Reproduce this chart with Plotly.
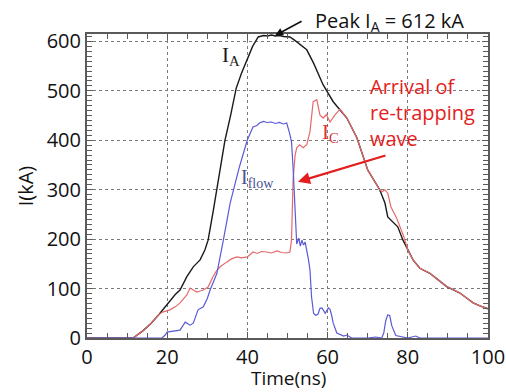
import plotly.graph_objects as go

# ---- data ----
t_A = [0, 11.5, 14, 16, 18, 19.5, 20.7, 22, 23.2, 24.9, 26.5, 28.2, 29.4, 30.2, 31.4, 32.3, 33.3,
       34.4, 35.8, 37.2, 38.5, 40, 41.3, 42.7, 44, 45, 46, 47, 48, 49, 50.6, 52, 53.5, 54.8,
       56.5, 58.9, 61.4, 63, 64.8, 67.3, 70, 73, 74.3, 75, 76.3, 77.5, 78.8, 80, 81.3, 83,
       85.5, 87.5, 89.7, 91.5, 93, 94.5, 96.3, 98, 100]
I_A = [0, 0, 15, 30, 48, 63, 77, 88, 97, 124, 144, 158, 178, 198, 253, 300, 350,
       400, 450, 505, 535, 563, 590, 609, 612, 611, 613, 611, 612, 610, 609, 601, 592, 583,
       556, 512, 478, 462, 445, 405, 340, 300, 273, 245, 235, 225, 198, 178, 158, 141,
       131, 118, 104, 97, 91, 82, 71, 65, 59]

t_C = [0, 11.5, 14, 16, 18, 19, 20.7, 22, 23.2, 24.9, 25.7, 26.5, 27.4, 28.2, 29, 30.2, 31.4,
       32.3, 33.2, 34.9, 36, 37.4, 38.5, 40, 41.4, 42.5, 43.5, 44.9, 46, 47.4, 48.5, 49.8,
       50.6, 51.0, 51.4, 51.9, 52.3, 53.0, 53.9, 54.8, 55.6, 56.4, 57.3, 58.1, 58.9, 59.7,
       60.6, 61.8, 63.1, 64.8, 67.3, 70, 73, 73.6, 74.3, 75, 75.8, 77.2, 78, 79, 80, 81.3,
       83, 85.5, 87.5, 89.7, 91.5, 93, 94.5, 96.3, 98, 100]
I_C = [0, 0, 15, 30, 48, 53, 57, 63, 71, 87, 101, 97, 93, 95, 97, 103, 124,
       136, 144, 154, 160, 164, 162, 164, 174, 171, 175, 174, 172, 176, 173, 172,
       174, 198, 320, 370, 385, 391, 385, 391, 417, 478, 482, 451, 445, 452,
       437, 451, 463, 445, 405, 340, 300, 296, 300, 293, 265, 243, 225, 205, 178, 158,
       141, 131, 118, 104, 97, 91, 82, 71, 65, 59]

t_flow = [0, 18.7, 19.5, 20, 21.5, 23.2, 24.5, 25.7, 26.5, 27.7, 29, 30, 30.7, 32.4, 34, 35.7,
          38, 40, 41.4, 42.4, 43, 44, 44.9, 46, 47, 48, 49, 49.8, 50.5, 51, 51.4, 51.7, 51.9,
          52.3, 52.8, 53.2, 53.6, 54, 54.4, 54.8, 55.2, 55.6, 56, 56.5, 57, 57.6, 58.1, 58.6,
          59.4, 60.2, 60.6, 61, 61.4, 62.3, 63, 64, 64.8, 66, 70, 72, 73.5, 74, 74.5, 75,
          75.5, 76, 77, 80, 81, 82, 83, 85, 100]
I_flow = [0, 0, 6, 12, 14, 16, 32, 26, 30, 57, 63, 80, 97, 131, 198, 273,
          346, 401, 427, 430, 435, 438, 436, 437, 434, 436, 433, 435, 415, 397, 344, 290, 230,
          190, 202, 186, 198, 188, 194, 180, 160, 138, 83, 50, 46, 48, 60, 61,
          50, 61, 58, 46, 30, 10, 8, 4, 6, 0, 0, 2, 0, 10, 35, 47,
          45, 25, 5, 0, 2, 4, 0, 0, 0]

x_ticks = [0, 20, 40, 60, 80, 100]
y_ticks = [0, 100, 200, 300, 400, 500, 600]

peak_time, peak_value = 46.9, 612

fig = go.Figure()
fig.add_trace(go.Scatter(x=t_A, y=I_A, mode="lines", line=dict(color="#1a1a1a", width=1.4),
                         showlegend=False))
fig.add_trace(go.Scatter(x=t_C, y=I_C, mode="lines", line=dict(color="#e46a6a", width=1.2),
                         showlegend=False))
fig.add_trace(go.Scatter(x=t_flow, y=I_flow, mode="lines", line=dict(color="#5a5ad8", width=1.2),
                         showlegend=False))

sans = "Open Sans"
serif = "Liberation Serif"

annotations = [
    dict(x=35.9, y=571, text="I<sub>A</sub>", showarrow=False,
         font=dict(family=serif, size=21, color="#1a1a1a")),
    dict(x=42.4, y=322, text="I<sub>flow</sub>", showarrow=False,
         font=dict(family=serif, size=20, color="#4a5290")),
    dict(x=60.6, y=415, text="I<sub>C</sub>", showarrow=False,
         font=dict(family=serif, size=21, color="#e03030")),
    dict(x=83.6, y=457, text="Arrival of<br>re-trapping<br>wave", showarrow=False,
         align="left", font=dict(family=sans, size=20, color="#e41e1e")),
    # arrow pointing to the re-trapping arrival
    dict(x=52.6, y=316, ax=74.8, ay=370, xref="x", yref="y", axref="x", ayref="y",
         text="", showarrow=True, arrowhead=2, arrowsize=1.1, arrowwidth=2.2,
         arrowcolor="#e41e1e"),
    # peak label (above the plot area)
    dict(x=0.755, y=1.042, xref="paper", yref="paper", xanchor="center", yanchor="middle",
         text="Peak I<sub>A</sub> = 612 kA",
         showarrow=False, font=dict(family=sans, size=20, color="#111111")),
    dict(x=peak_time, y=peak_value, xref="x", yref="y", ax=28, ay=-15,
         text="", showarrow=True, arrowhead=2, arrowsize=1.0, arrowwidth=1.6,
         arrowcolor="#111111"),
    # x axis title
    dict(x=0.503, y=-0.13, xref="paper", yref="paper", xanchor="center", yanchor="middle",
         text="Time(ns)", showarrow=False, font=dict(family=sans, size=19, color="#111111")),
]

axis_common = dict(
    showline=True, linecolor="#5a5a5a", linewidth=2, mirror="allticks",
    ticks="inside", ticklen=6, tickcolor="#5a5a5a", tickwidth=1,
    showgrid=True, gridcolor="#7a7a7a", griddash="dot", gridwidth=1,
    zeroline=False, automargin=False,
    tickfont=dict(family=sans, size=20, color="#111111"),
)

fig.update_layout(
    width=506, height=392,
    margin=dict(l=87, r=18, t=34, b=54),
    paper_bgcolor="white", plot_bgcolor="white",
    annotations=annotations,
    xaxis=dict(range=[0, 100], tickvals=x_ticks, ticktext=[str(v) for v in x_ticks],
               minor=dict(dtick=5, ticks="inside", ticklen=5, tickcolor="#5a5a5a",
                          showgrid=False),
               **axis_common),
    yaxis=dict(range=[0, 615], tickvals=y_ticks, ticktext=[str(v) for v in y_ticks],
               title=dict(text="I(kA)", font=dict(family=sans, size=20, color="#111111"),
                          standoff=8),
               minor=dict(dtick=10, ticks="inside", ticklen=5, tickcolor="#5a5a5a",
                          showgrid=False),
               **axis_common),
)

fig.write_html("out.html")
